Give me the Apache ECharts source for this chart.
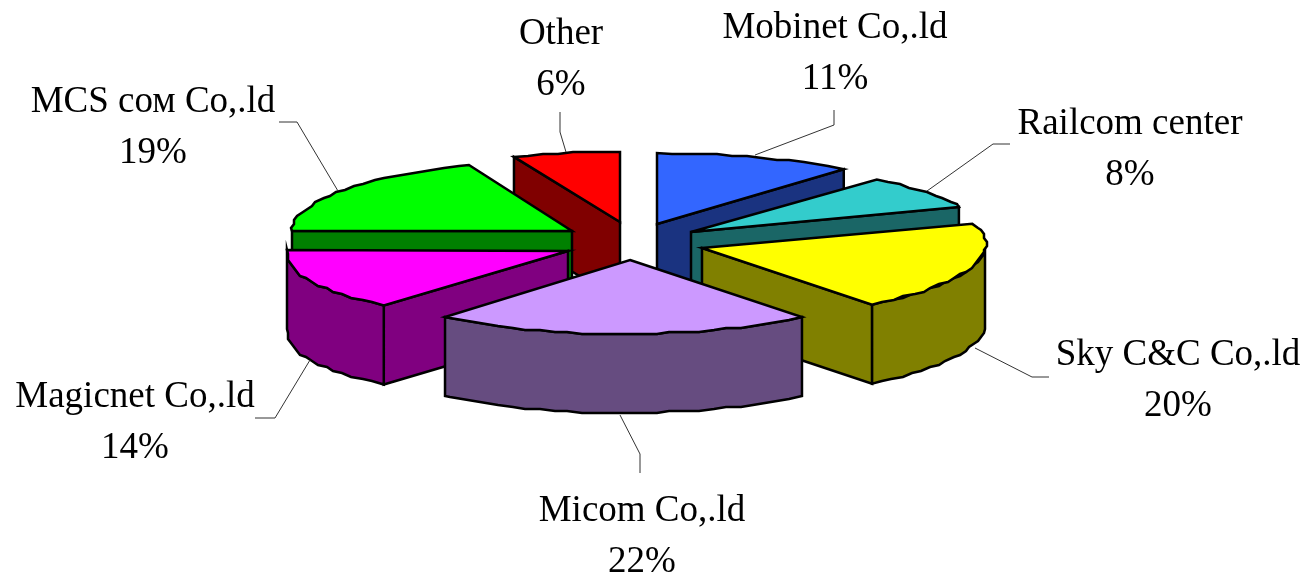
<!DOCTYPE html>
<html>
<head>
<meta charset="utf-8">
<style>html,body{margin:0;padding:0;background:#fff}#c{width:1308px;height:578px}</style>
<script src="https://cdn.jsdelivr.net/npm/echarts@6/dist/echarts.min.js"></script>
</head>
<body>
<div id="c"></div>
<script>
// Data: clockwise from 12 o'clock
var names = ['Mobinet Co,.ld', 'Railcom center', 'Sky C&C Co,.ld', 'Micom Co,.ld', 'Magicnet Co,.ld', 'MCS сом Co,.ld', 'Other'];
var values = [11, 8, 20, 22, 14, 19, 6];

// Styling
var topColors  = ['#3366FF', '#33CCCC', '#FFFF00', '#CC99FF', '#FF00FF', '#00FF00', '#FF0000'];
var wallColors = ['#1A3380', '#1A6666', '#808000', '#664C80', '#800080', '#008000', '#800000'];

// Layout of the exploded, tilted slices (apex ax/ay, arc centre cx/cy, radii, skew k)
var sliceLayout = [
  {ax:657, ay:224, cx:657,   cy:224, rx:293, ry:71, k:0,      z:20},
  {ax:691, ay:232, cx:691,   cy:232, rx:285, ry:68, k:0.03,   z:30},
  {ax:702, ay:248, cx:702,   cy:250, rx:283, ry:71, k:0.074,  z:60},
  {ax:630, ay:260, cx:623.5, cy:260, rx:280, ry:74, k:0,      z:70},
  {ax:568, ay:251, cx:568,   cy:250, rx:281, ry:72, k:-0.037, z:50},
  {ax:572, ay:231, cx:572,   cy:231, rx:280, ry:71, k:0,      z:40},
  {ax:620, ay:222, cx:620,   cy:222, rx:288, ry:70, k:0,      z:10}
];
var depth = 79;
var labelLayout = [
  {x:835,  y:28},
  {x:1130, y:124},
  {x:1178, y:355},
  {x:642,  y:511},
  {x:135,  y:397},
  {x:153,  y:102},
  {x:561,  y:34}
];
var leaderLayout = [
  [[755,155],[834,125],[834,110]],
  [[927,191],[993,144],[1010,144]],
  [[975,348],[1032,377],[1049,377]],
  [[620,415],[640,454],[640,473]],
  [[310,360],[275,418],[255,418]],
  [[338,191],[297,122],[279,122]],
  [[566,152],[560,132],[560,112]]
];

var total = values.reduce(function (a, b) { return a + b; }, 0);
var starts = [];
values.reduce(function (acc, v, i) { starts[i] = acc; return acc + v; }, 0);
var RAD = Math.PI / 180;

function arcPoint(L, deg, exact) {
  var t = deg * RAD;
  var x = L.cx + L.rx * Math.sin(t) * (1 + L.k * Math.cos(t));
  var y = L.cy - L.ry * Math.cos(t);
  if (!exact) { x = Math.round(x / 3) * 3; y = Math.round(y / 2) * 2; }
  return [x, y];
}
function arcPoints(L, a, b) {
  var pts = [arcPoint(L, a, true)];
  for (var d = a + 3; d < b - 1; d += 3) pts.push(arcPoint(L, d, false));
  pts.push(arcPoint(L, b, true));
  return pts;
}
function down(p) { return [p[0], p[1] + depth]; }

function face(points, fill, z2) {
  return {
    type: 'polygon', z2: z2,
    shape: { points: points },
    style: { fill: fill, stroke: '#000', lineWidth: 2.5, lineJoin: 'miter' }
  };
}

function renderSlice(params) {
  var i = params.dataIndex;
  var L = sliceLayout[i];
  var a = starts[i] / total * 360;
  var b = (starts[i] + values[i]) / total * 360;
  var apex = [L.ax, L.ay];
  var kids = [];
  var z = L.z * 10;

  var p1 = arcPoint(L, a, true), p2 = arcPoint(L, b, true);
  if (Math.sin(a * RAD) < -1e-6) kids.push(face([apex, p1, down(p1), down(apex)], wallColors[i], z));
  if (Math.sin(b * RAD) > 1e-6)  kids.push(face([apex, p2, down(p2), down(apex)], wallColors[i], z));

  var fa = Math.max(a, 90), fb = Math.min(b, 270);
  if (fb > fa) {
    var arc = arcPoints(L, fa, fb);
    kids.push(face(arc.concat(arc.slice().reverse().map(down)), wallColors[i], z + 1));
  }
  kids.push(face([apex].concat(arcPoints(L, a, b)), topColors[i], z + 2));

  return { type: 'group', children: kids };
}

function renderLabel(params) {
  var i = params.dataIndex;
  var T = labelLayout[i];
  var textStyle = { fill: '#000', font: '37px "Liberation Serif", "Times New Roman", serif', align: 'center', verticalAlign: 'middle' };
  return {
    type: 'group',
    children: [
      { type: 'polyline', z2: 900, shape: { points: leaderLayout[i] }, style: { stroke: '#333', lineWidth: 1, fill: 'none' } },
      { type: 'text', z2: 1000, x: T.x, y: T.y, style: Object.assign({ text: names[i] }, textStyle) },
      { type: 'text', z2: 1000, x: T.x, y: T.y + 51, style: Object.assign({ text: values[i] + '%' }, textStyle) }
    ]
  };
}

var chart = echarts.init(document.getElementById('c'), null, { renderer: 'canvas' });
chart.setOption({
  backgroundColor: '#fff',
  animation: false,
  series: [
    { type: 'custom', coordinateSystem: 'none', silent: true, renderItem: renderSlice, data: values, z: 2 },
    { type: 'custom', coordinateSystem: 'none', silent: true, renderItem: renderLabel, data: values, z: 3 }
  ]
});
</script>
</body>
</html>
